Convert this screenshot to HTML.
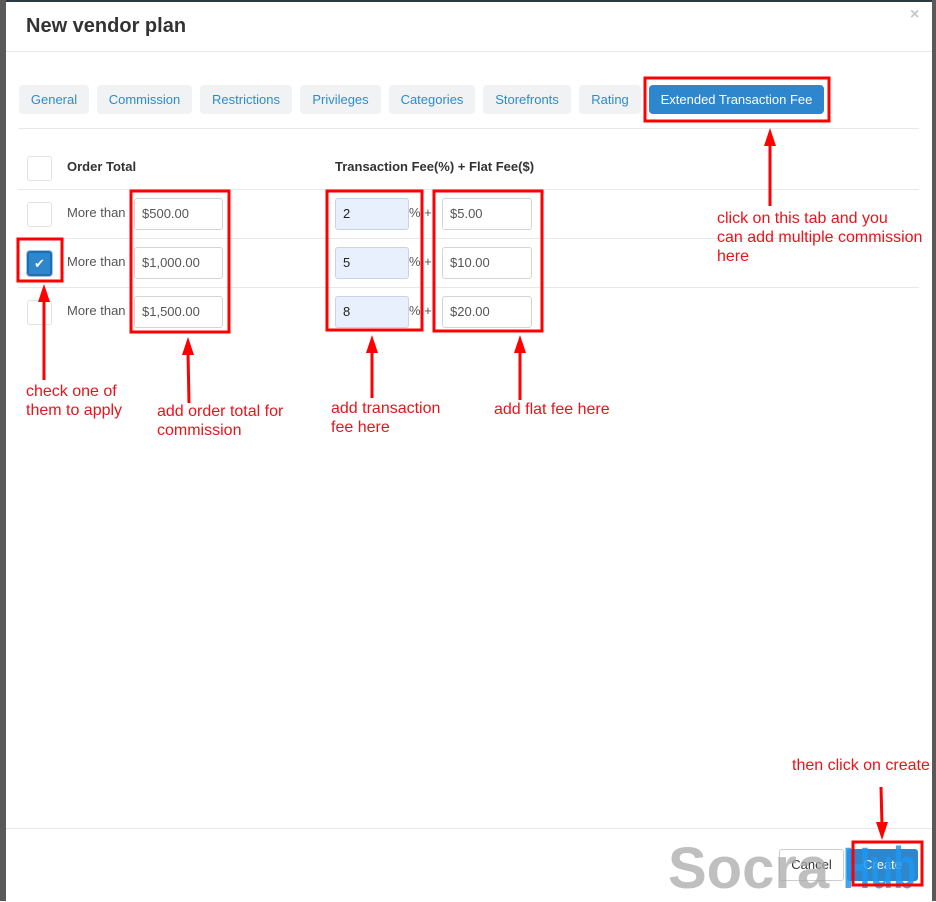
<!DOCTYPE html>
<html><head><meta charset="utf-8"><style>
*{margin:0;padding:0;box-sizing:border-box}
body{width:936px;height:901px;position:relative;overflow:hidden;background:#fff;font-family:"Liberation Sans",sans-serif}
.a{position:absolute}
.tab{position:absolute;top:85px;height:29px;background:#f0f2f3;border-radius:4px;color:#2b8dcf;font-size:13px;line-height:29px;text-align:center}
.cb{position:absolute;left:27px;width:25px;height:25px;border:1px solid #e2e2e2;border-radius:3px;background:#fff}
.inp{position:absolute;height:32px;border:1px solid #d5d5d5;border-radius:3px;font-size:13px;line-height:30px;padding-left:7px;color:#555;background:#fff}
.blue{background:#e8f0fe;border-color:#c8d4e6;color:#222}
.lbl{position:absolute;font-size:13px;color:#555}
.hl{position:absolute;left:18px;width:901px;height:1px;background:#e8e8e8}
.r{position:absolute;color:#e8141b;font-size:16px;line-height:19px}
</style></head><body>
<div class="a" style="left:0;top:0;width:6px;height:901px;background:#595959"></div>
<div class="a" style="left:932px;top:0;width:4px;height:901px;background:#595959"></div>
<div class="a" style="left:6px;top:0;width:926px;height:2px;background:#2c3a44"></div>
<div class="a" style="left:26px;top:15px;font-size:20px;font-weight:bold;color:#333">New vendor plan</div>
<div class="a" style="left:910px;top:6px;font-size:16px;color:#c8c8c8;font-weight:bold">×</div>
<div class="a" style="left:6px;top:51px;width:926px;height:1px;background:#e8e8e8"></div>

<div class="tab" style="left:19px;width:70px">General</div>
<div class="tab" style="left:97px;width:95px">Commission</div>
<div class="tab" style="left:200px;width:92px">Restrictions</div>
<div class="tab" style="left:300px;width:81px">Privileges</div>
<div class="tab" style="left:389px;width:86px">Categories</div>
<div class="tab" style="left:483px;width:88px">Storefronts</div>
<div class="tab" style="left:579px;width:62px">Rating</div>
<div class="tab" style="left:649px;width:175px;background:#2e86cc;color:#fff">Extended Transaction Fee</div>
<div class="hl" style="top:128px"></div>

<div class="cb" style="top:156px"></div>
<div class="a" style="left:67px;top:159px;font-size:13px;font-weight:bold;color:#333">Order Total</div>
<div class="a" style="left:335px;top:159px;font-size:13px;font-weight:bold;color:#333">Transaction Fee(%) + Flat Fee($)</div>
<div class="hl" style="top:189px"></div>
<div class="hl" style="top:238px"></div>
<div class="hl" style="top:287px"></div>

<div class="cb" style="top:202px"></div>
<div class="cb" style="top:251px;background:#2e86cc;border:2px solid #1f6fae;box-shadow:0 0 0 1px #9cc7ea;color:#fff;font-size:13px;text-align:center;line-height:21px">✔</div>
<div class="cb" style="top:300px"></div>

<div class="lbl" style="left:67px;top:205px">More than</div>
<div class="lbl" style="left:67px;top:254px">More than</div>
<div class="lbl" style="left:67px;top:303px">More than</div>

<div class="inp" style="left:134px;top:198px;width:89px">$500.00</div>
<div class="inp" style="left:134px;top:247px;width:89px">$1,000.00</div>
<div class="inp" style="left:134px;top:296px;width:89px">$1,500.00</div>

<div class="inp blue" style="left:335px;top:198px;width:74px">2</div>
<div class="inp blue" style="left:335px;top:247px;width:74px">5</div>
<div class="inp blue" style="left:335px;top:296px;width:74px">8</div>
<div class="lbl" style="left:409px;top:205px">% +</div>
<div class="lbl" style="left:409px;top:254px">% +</div>
<div class="lbl" style="left:409px;top:303px">% +</div>

<div class="inp" style="left:442px;top:198px;width:90px">$5.00</div>
<div class="inp" style="left:442px;top:247px;width:90px">$10.00</div>
<div class="inp" style="left:442px;top:296px;width:90px">$20.00</div>

<div class="a" style="left:6px;top:828px;width:926px;height:1px;background:#e8e8e8"></div>
<div class="a" style="left:779px;top:849px;width:65px;height:32px;border:1px solid #ccc;border-radius:3px;font-size:13px;color:#333;text-align:center;line-height:30px">Cancel</div>
<div class="a" style="left:847px;top:849px;width:71px;height:32px;background:#2e86cc;border-radius:3px;font-size:13px;color:#fff;text-align:center;line-height:32px">Create</div>
<div class="a" style="left:668px;top:836px;font-size:58px;font-weight:bold;color:rgba(170,170,170,0.75);line-height:66px">Socra</div>
<div class="a" style="left:843px;top:836px;font-size:58px;font-weight:bold;color:rgba(30,150,240,0.85);line-height:66px;transform:scaleX(0.65);transform-origin:left top">Hub</div>

<svg class="a" style="left:0;top:0" width="936" height="901">
<g fill="none" stroke="#f00" stroke-width="3">
<rect x="645" y="78" width="184" height="43"/>
<rect x="131" y="191" width="98" height="141"/>
<rect x="327" y="191" width="95" height="139"/>
<rect x="434" y="191" width="108" height="140"/>
<rect x="18" y="239" width="44" height="42"/>
<rect x="853" y="842" width="69" height="43"/>
</g>
<g stroke="#f00" stroke-width="3">
<line x1="770" y1="144" x2="770" y2="206"/>
<line x1="44" y1="300" x2="44" y2="380"/>
<line x1="188" y1="352" x2="189" y2="403"/>
<line x1="372" y1="350" x2="372" y2="398"/>
<line x1="520" y1="350" x2="520" y2="400"/>
<line x1="881" y1="787" x2="882" y2="826"/>
</g>
<g fill="#f00">
<polygon points="770,128 764,146 776,146"/>
<polygon points="44,284 38,302 50,302"/>
<polygon points="188,337 182,355 194,355"/>
<polygon points="372,335 366,353 378,353"/>
<polygon points="520,335 514,353 526,353"/>
<polygon points="882,840 876,822 888,822"/>
</g>
</svg>

<div class="r" style="left:717px;top:209px">click on this tab and you<br>can add multiple commission<br>here</div>
<div class="r" style="left:26px;top:382px">check one of<br>them to apply</div>
<div class="r" style="left:157px;top:402px">add order total for<br>commission</div>
<div class="r" style="left:331px;top:399px">add transaction<br>fee here</div>
<div class="r" style="left:494px;top:400px">add flat fee here</div>
<div class="r" style="left:792px;top:756px">then click on create</div>
</body></html>
